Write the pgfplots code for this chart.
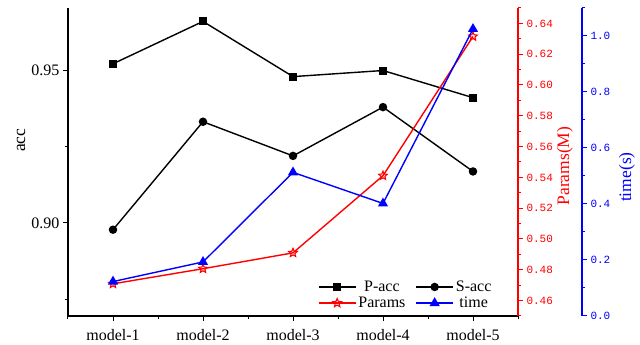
\documentclass[border=0pt]{standalone}
\usepackage{fontspec}
\setmainfont{Liberation Serif}
\newfontfamily\monofont{Liberation Mono}
\usepackage{pgfplots}
\pgfplotsset{compat=1.18}
\usetikzlibrary{plotmarks}

\pgfdeclareplotmark{pstar}{%
  \pgfpathmoveto{\pgfpointpolar{90}{\pgfplotmarksize}}%
  \pgfpathlineto{\pgfpointpolar{126}{0.45\pgfplotmarksize}}%
  \pgfpathlineto{\pgfpointpolar{162}{\pgfplotmarksize}}%
  \pgfpathlineto{\pgfpointpolar{198}{0.45\pgfplotmarksize}}%
  \pgfpathlineto{\pgfpointpolar{234}{\pgfplotmarksize}}%
  \pgfpathlineto{\pgfpointpolar{270}{0.45\pgfplotmarksize}}%
  \pgfpathlineto{\pgfpointpolar{306}{\pgfplotmarksize}}%
  \pgfpathlineto{\pgfpointpolar{342}{0.45\pgfplotmarksize}}%
  \pgfpathlineto{\pgfpointpolar{18}{\pgfplotmarksize}}%
  \pgfpathlineto{\pgfpointpolar{54}{0.45\pgfplotmarksize}}%
  \pgfpathclose
  \pgfusepathqstroke
}

\pgfplotsset{
  base/.style={
    scale only axis, width=450pt, height=308pt,
    xmin=0.5, xmax=5.5, at={(0pt,0pt)}, anchor=south west,
    tick align=outside,
    major tick length=5pt, minor tick length=3pt,
    /pgf/number format/assume math mode=true,
    axis line style={-, line width=1.2pt},
    every tick/.append style={line width=1pt},
    clip=false,
  },
}

\begin{document}
\begin{tikzpicture}
\useasboundingbox (-68pt,-29pt) rectangle (572pt,316pt);

% Black axis: accuracy
\begin{axis}[base,
  axis x line*=bottom, axis y line*=left,
  ymin=0.8695, ymax=0.9705,
  ytick={0.90,0.95}, minor ytick={0.875,0.925},
  xtick={1,2,3,4,5},
  xticklabels={model-1,model-2,model-3,model-4,model-5},
  minor xtick={0.5,1.5,2.5,3.5,4.5,5.5},
  every tick/.append style={black},
  tick label style={font=\fontsize{16}{18}\selectfont},
  x tick label style={yshift=-5pt},
  y tick label style={/pgf/number format/.cd, fixed, fixed zerofill, precision=2, /tikz/.cd},
  ylabel={acc},
  every axis y label/.style={at={(rel axis cs:-0.1044,0.571)}, rotate=90, anchor=center, font=\fontsize{17.5}{20}\selectfont},
]
\addplot[black, line width=1.4pt, mark=square*, mark size=3.3pt] coordinates {
  (1,0.9522) (2,0.9661) (3,0.9480) (4,0.9500) (5,0.9411)};
\addplot[black, line width=1.4pt, mark=*, mark size=3.5pt] coordinates {
  (1,0.8978) (2,0.9332) (3,0.9220) (4,0.9380) (5,0.9169)};
\end{axis}

% Red axis: params
\begin{axis}[base,
  axis y line*=right, hide x axis,
  ymin=0.45, ymax=0.65,
  ytick={0.46,0.48,0.50,0.52,0.54,0.56,0.58,0.60,0.62,0.64},
  minor ytick={0.45,0.47,0.49,0.51,0.53,0.55,0.57,0.59,0.61,0.63,0.65},
  y axis line style={red},
  every y tick/.append style={red},
  every minor y tick/.append style={red},
  y tick label style={red, font=\monofont\fontsize{11}{13}\selectfont, /pgf/number format/.cd, fixed, fixed zerofill, precision=2, /tikz/.cd},
  ylabel={Params(M)},
  every axis y label/.style={at={(rel axis cs:1.1044,0.487)}, rotate=90, anchor=center, text=red, font=\fontsize{17.5}{20}\selectfont},
]
\addplot[red, line width=1.4pt, mark=pstar, mark size=4.5pt, mark options={line width=1.1pt}] coordinates {
  (1,0.4709) (2,0.4807) (3,0.4910) (4,0.5411) (5,0.6315)};
\end{axis}

% Blue data + legend
\begin{axis}[base,
  hide axis,
  ymin=0, ymax=1.1,
  legend columns=2,
  legend style={at={(0.948,0.012)}, anchor=south east, draw=none, fill=none,
    font=\fontsize{16}{18}\selectfont, row sep=0pt, inner sep=1pt},
  /tikz/every even column/.append style={column sep=8pt},
  legend image code/.code={\draw[mark repeat=2, mark phase=2] plot coordinates {(0pt,0pt) (18.5pt,0pt) (37pt,0pt)};},
]
\addlegendimage{black, line width=1.4pt, mark=square*, mark size=3.3pt}
\addlegendentry{P-acc}
\addlegendimage{black, line width=1.4pt, mark=*, mark size=3.5pt}
\addlegendentry{S-acc}
\addlegendimage{red, line width=1.4pt, mark=pstar, mark size=4.5pt, mark options={line width=1.1pt}}
\addlegendentry{Params}
\addplot[blue, line width=1.4pt, mark=triangle*, mark size=4.5pt] coordinates {
  (1,0.123) (2,0.193) (3,0.513) (4,0.402) (5,1.025)};
\addlegendentry{time}
\end{axis}

% Blue axis: time
\begin{axis}[base, at={(64pt,0pt)},
  axis y line*=right, hide x axis,
  ymin=0, ymax=1.1,
  ytick={0,0.2,0.4,0.6,0.8,1.0},
  minor ytick={0.1,0.3,0.5,0.7,0.9,1.1},
  y axis line style={blue},
  every y tick/.append style={blue},
  every minor y tick/.append style={blue},
  y tick label style={blue, font=\monofont\fontsize{11}{13}\selectfont, /pgf/number format/.cd, fixed, fixed zerofill, precision=1, /tikz/.cd},
  ylabel={time(s)},
  every axis y label/.style={at={(rel axis cs:1.1,0.451)}, rotate=90, anchor=center, text=blue, font=\fontsize{17.5}{20}\selectfont},
]
\end{axis}
\end{tikzpicture}
\end{document}
